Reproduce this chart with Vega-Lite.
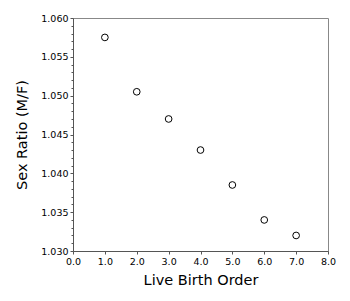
{
  "$schema": "https://vega.github.io/schema/vega-lite/v6.json",
  "autosize": {"type": "none"},
  "width": 255,
  "height": 233,
  "padding": {"left": 73, "top": 18, "right": 22, "bottom": 50},
  "background": "white",
  "config": {
    "view": {"stroke": "#888888", "strokeWidth": 1},
    "font": "DejaVu Sans",
    "axis": {
      "labelFont": "DejaVu Sans",
      "titleFont": "DejaVu Sans",
      "labelFontSize": 9.5,
      "titleFontSize": 14.5,
      "titleFontWeight": "normal",
      "labelColor": "black",
      "titleColor": "black",
      "domainColor": "#555555",
      "tickColor": "#555555",
      "grid": false,
      "labelOverlap": false
    }
  },
  "data": {
    "values": [
      {"order": 1, "ratio": 1.0575},
      {"order": 2, "ratio": 1.0505},
      {"order": 3, "ratio": 1.047},
      {"order": 4, "ratio": 1.043},
      {"order": 5, "ratio": 1.0385},
      {"order": 6, "ratio": 1.034},
      {"order": 7, "ratio": 1.032}
    ]
  },
  "layer": [
    {
      "mark": {"type": "point", "shape": "circle", "filled": false, "stroke": "black", "strokeWidth": 1, "size": 45, "opacity": 1},
      "encoding": {
        "x": {
          "field": "order", "type": "quantitative",
          "scale": {"domain": [0, 8], "nice": false, "zero": false},
          "axis": {"title": "Live Birth Order", "values": [0,1,2,3,4,5,6,7,8], "format": ".1f", "tickSize": 3, "labelPadding": 2, "titlePadding": 8, "labelFlush": false, "labelOverlap": false, "labelBound": false}
        },
        "y": {
          "field": "ratio", "type": "quantitative",
          "scale": {"domain": [1.03, 1.06], "nice": false, "zero": false},
          "axis": {"title": "Sex Ratio (M/F)", "values": [1.03, 1.035, 1.04, 1.045, 1.05, 1.055, 1.06], "format": ".3f", "tickSize": 3, "labelPadding": 2, "titlePadding": 11, "labelFlush": false, "labelOverlap": false}
        }
      }
    },
    {
      "mark": {"type": "point", "opacity": 0},
      "encoding": {
        "y": {
          "field": "ratio", "type": "quantitative",
          "axis": {"orient": "left", "title": null, "labels": false, "domain": false, "tickSize": 2,
            "values": [1.031,1.032,1.033,1.034,1.036,1.037,1.038,1.039,1.041,1.042,1.043,1.044,1.046,1.047,1.048,1.049,1.051,1.052,1.053,1.054,1.056,1.057,1.058,1.059]}
        }
      }
    }
  ],
  "resolve": {"axis": {"y": "independent"}}
}
